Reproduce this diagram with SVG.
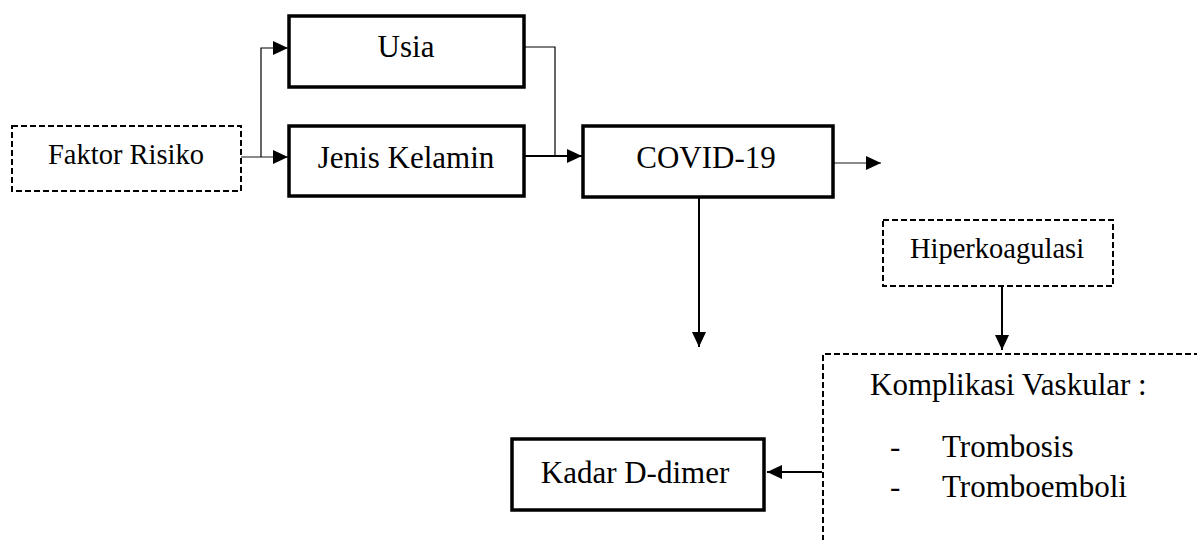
<svg xmlns="http://www.w3.org/2000/svg" width="1197" height="540" viewBox="0 0 1197 540">
  <style>
    .box { fill: #ffffff; stroke: #000000; stroke-width: 3.5; }
    .dash { fill: #ffffff; stroke: #000000; stroke-width: 2; stroke-dasharray: 6 3; }
    .t { font-family: "Liberation Serif", "Times New Roman", serif; fill: #000000; }
    .big { font-size: 31px; }
    .small { font-size: 28.5px; }
    .c { stroke: #000000; stroke-width: 2; fill: none; }
    .thin { stroke: #000000; stroke-width: 1.2; fill: none; }
    .gray { stroke: #8a8a8a; stroke-width: 2; fill: none; }
  </style>
  <defs>
    <marker id="ah" markerUnits="userSpaceOnUse" markerWidth="16" markerHeight="14" refX="15" refY="7" orient="auto">
      <path d="M0,0 L15,7 L0,14 z" fill="#000000"/>
    </marker>
  </defs>
  <rect width="1197" height="540" fill="#ffffff"/>

  <g id="connectors">
    <path class="gray" d="M241,157 H262" />
    <path class="thin" d="M261,157 V48 H275" />
    <path class="gray" d="M262,157 H288" marker-end="url(#ah)"/>
    <path class="gray" d="M274,48 H288" marker-end="url(#ah)"/>
    <path class="thin" d="M524,47 H555 V156" />
    <path class="c" d="M524,156 H582" marker-end="url(#ah)"/>
    <path class="gray" d="M833,163 H881" marker-end="url(#ah)"/>
    <path class="c" d="M699,197 V347" marker-end="url(#ah)"/>
    <path class="c" d="M1002,286 V350" marker-end="url(#ah)"/>
    <path class="c" d="M822,472 H767" marker-end="url(#ah)"/>
  </g>

  <g id="faktor-risiko">
    <rect class="dash" x="12" y="126" width="229" height="65"/>
    <text class="t small" x="126" y="164" text-anchor="middle">Faktor Risiko</text>
  </g>

  <g id="usia">
    <rect class="box" x="289" y="16" width="235" height="71"/>
    <text class="t big" x="406" y="57" text-anchor="middle">Usia</text>
  </g>

  <g id="jenis-kelamin">
    <rect class="box" x="289" y="126" width="235" height="70"/>
    <text class="t big" x="406" y="168" text-anchor="middle">Jenis Kelamin</text>
  </g>

  <g id="covid-19">
    <rect class="box" x="583" y="126" width="250" height="71"/>
    <text class="t big" x="706" y="168" text-anchor="middle">COVID-19</text>
  </g>

  <g id="hiperkoagulasi">
    <rect class="dash" x="883" y="220" width="230" height="66"/>
    <text class="t small" x="997" y="258" text-anchor="middle">Hiperkoagulasi</text>
  </g>

  <g id="komplikasi-vaskular">
    <path class="dash" d="M823,541 V354 H1198" fill="none"/>
    <text class="t big" x="870" y="395">Komplikasi Vaskular :</text>
    <text class="t big" x="890" y="457">-</text>
    <text class="t big" x="942" y="457">Trombosis</text>
    <text class="t big" x="890" y="497">-</text>
    <text class="t big" x="942" y="497">Tromboemboli</text>
  </g>

  <g id="kadar-d-dimer">
    <rect class="box" x="512" y="439" width="252" height="71"/>
    <text class="t big" x="635" y="483" text-anchor="middle">Kadar D-dimer</text>
  </g>
</svg>
